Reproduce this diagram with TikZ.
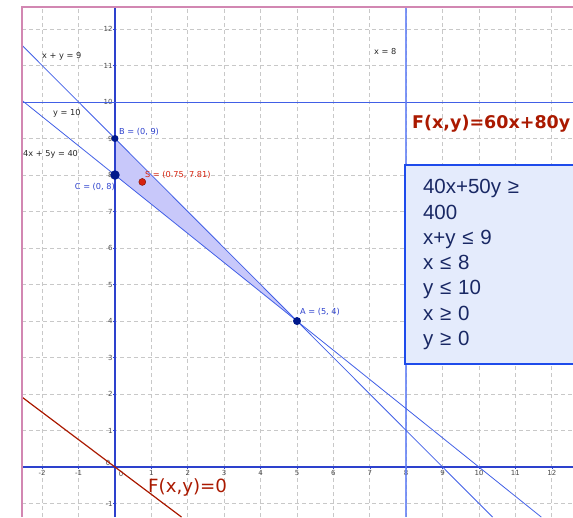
\documentclass[tikz,border=0pt]{standalone}
\usepackage{fontspec}
\setmainfont{DejaVu Sans}
\newfontfamily\boxfont{Liberation Sans}
\usetikzlibrary{positioning}
\definecolor{axisblue}{RGB}{45,65,205}
\definecolor{lineblue}{RGB}{65,95,230}
\definecolor{vblue}{RGB}{95,125,245}
\definecolor{ptblue}{RGB}{0,25,140}
\definecolor{ptred}{RGB}{215,35,15}
\definecolor{fred}{RGB}{170,25,0}
\definecolor{regionfill}{RGB}{200,200,250}
\definecolor{boxblue}{RGB}{30,75,235}
\definecolor{boxfill}{RGB}{228,235,252}
\definecolor{boxtext}{RGB}{25,40,100}
\definecolor{framepink}{RGB}{210,135,178}
\definecolor{gridgray}{RGB}{200,200,200}
\begin{document}
\begin{tikzpicture}[x=36.4pt, y=36.5pt,
gridline/.style={gridgray, line width=0.8pt, dash pattern=on 4pt off 3pt},
axis/.style={axisblue, line width=1.2pt},
constraint/.style={lineblue, line width=0.8pt},
ticklabel/.style={font=\fontsize{7}{8}\selectfont, text=black!70, inner sep=0pt},
eqlabel/.style={font=\fontsize{8.2}{9}\selectfont, text=black!85, inner sep=0pt, anchor=west},
ptlabel/.style={font=\fontsize{8.2}{9}\selectfont, text=axisblue, inner sep=0pt},
dot/.style={circle, fill=ptblue, inner sep=0pt, minimum size=8pt}]
\useasboundingbox (-3.159,-1.370) rectangle (12.582,12.795);
\begin{scope}
\clip (-2.555,-1.370) rectangle (12.582,12.603);
% grid
\foreach \i in {-2,...,12} \draw[gridline] (\i,-1.37) -- (\i,12.603);
\foreach \j in {-1,...,12} \draw[gridline] (-2.555,\j) -- (12.582,\j);
% feasible region
\coordinate (B) at (0,9);
\coordinate (C) at (0,8);
\coordinate (A) at (5,4);
\fill[regionfill] (B) -- (A) -- (C) -- cycle;
% axes and ticks
\draw[axis] (-2.555,0) -- (12.582,0);
\draw[axis] (0,-1.37) -- (0,12.603);
\foreach \i in {-2,-1,1,2,...,12} {
  \draw[axisblue, line width=0.6pt] (\i,0) -- (\i,-0.06);
  \node[ticklabel, anchor=north] (xl\i) at (\i,-0.08) {\i};
}
\foreach \j in {-1,1,2,...,12} {
  \draw[axisblue, line width=0.6pt] (0,\j) -- (-0.06,\j);
  \node[ticklabel, anchor=east] (yl\j) at (-0.06,\j) {\j};
}
\node[ticklabel] (xl0) at (0.165,-0.2) {0};
\node[ticklabel] (yl0) at (-0.19,0.11) {0};
% constraint lines
\draw[constraint, line width=1pt] (-2.555,10) -- (12.582,10);
\draw[vblue, line width=1.5pt, opacity=0.8] (8,-1.37) -- (8,12.603);
\draw[constraint] (-2.555,11.555) -- (10.37,-1.37);
\draw[constraint] (-2.555,10.044) -- (11.71,-1.37);
\draw[fred, line width=1.2pt] (-2.555,1.916) -- (1.827,-1.37);
% points
\node[dot, minimum size=7pt] (pB) at (B) {};
\node[dot, minimum size=9.5pt] (pC) at (C) {};
\node[dot] (pA) at (A) {};
\node[circle, fill=ptred, draw=fred!70!black, line width=0.4pt, inner sep=0pt, minimum size=7pt] (pS) at (0.75,7.81) {};
\node[ptlabel, anchor=west] (lB) at (0.11,9.18) {B = (0, 9)};
\node[ptlabel, anchor=east] (lC) at (0,7.67) {C = (0, 8)};
\node[ptlabel, anchor=west] (lA) at (5.08,4.25) {A = (5, 4)};
\node[ptlabel, anchor=west, text=ptred] (lS) at (0.824,8.0) {S = (0.75, 7.81)};
% line labels
\node[eqlabel] (l9) at (-2.005,11.26) {x + y = 9};
\node[eqlabel] (l10) at (-1.703,9.70) {y = 10};
\node[eqlabel] (l40) at (-2.527,8.575) {4x + 5y = 40};
\node[eqlabel] (l8) at (7.115,11.37) {x = 8};
% objective
\node[anchor=west, inner sep=0pt, text=fred, font=\bfseries\fontsize{17.5}{20}\selectfont] (fobj) at (8.16,9.40) {F(x,y)=60x+80y};
\node[anchor=west, inner sep=0pt, text=fred, font=\fontsize{18.2}{20}\selectfont] (fzero) at (0.907,-0.55) {F(x,y)=0};
% constraints box
\node[anchor=north west, draw=boxblue, line width=2pt, fill=boxfill, minimum height=199pt, text width=180pt, inner xsep=18pt, align=left, text=boxtext, font=\boxfont\fontsize{20.5}{25.3}\selectfont] (constraints) at (7.94,8.30)
{40x+50y ≥\\400\\x+y ≤ 9\\x ≤ 8\\y ≤ 10\\x ≥ 0\\y ≥ 0};
\end{scope}
% frame
\draw[framepink, line width=2pt] (-2.555,-1.37) -- (-2.555,12.603) -- (12.582,12.603);
\end{tikzpicture}
\end{document}
